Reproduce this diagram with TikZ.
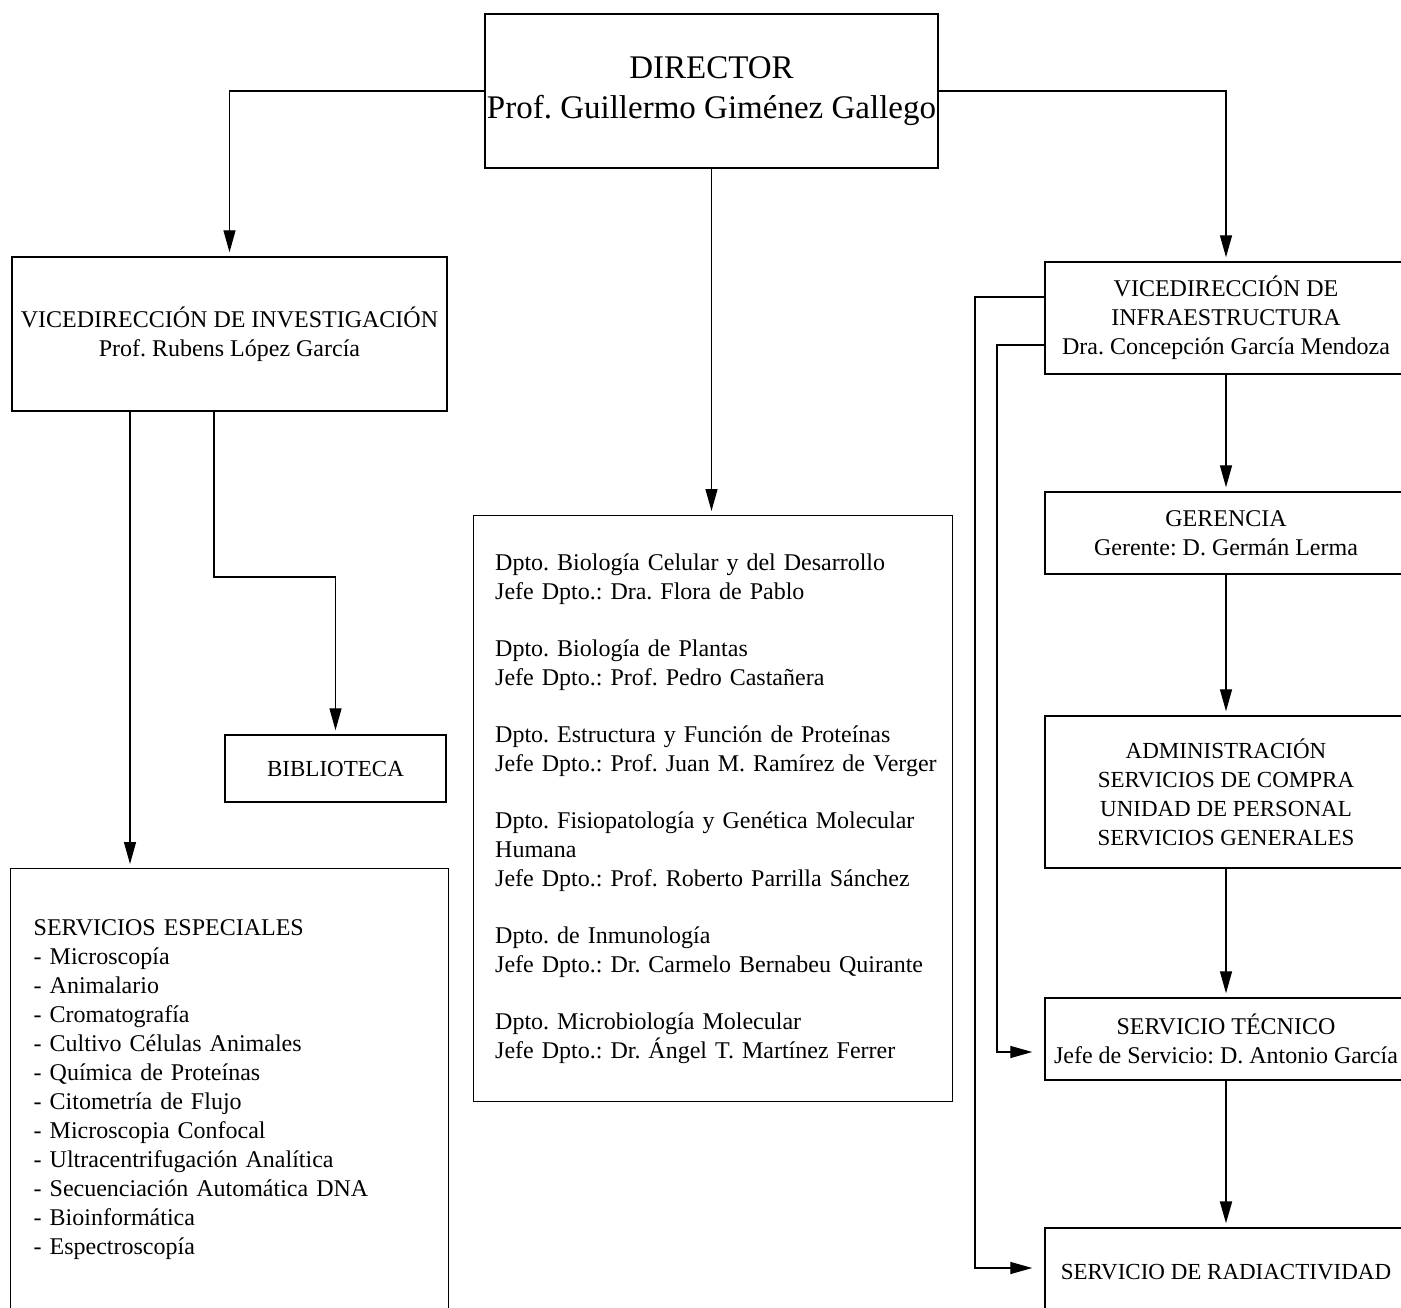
\documentclass[tikz,border=0pt]{standalone}
\usepackage{fontspec}
\setmainfont{Liberation Serif}
\frenchspacing
\hfuzz=20pt
\usetikzlibrary{arrows.meta}
\tikzset{
  box/.style={draw, line width=1.4pt, inner sep=0pt, align=center,
    font=\fontsize{24}{29}\selectfont},
  capsbox/.style={box, font=\fontsize{23}{29}\selectfont},
  listbox/.style={box, anchor=north west, align=left},
  conn/.style={line width=1.3pt, -{Triangle[length=22pt,width=12pt]}, shorten >=4pt},
  thickconn/.style={conn, line width=2pt},
  sideconn/.style={conn, shorten >=12pt}
}
\begin{document}
\begin{tikzpicture}[x=1pt,y=-1pt]
\useasboundingbox (0,0) rectangle (1401,1308);
\clip (0,0) rectangle (1401,1308);

% boxes
\node[box, minimum width=453pt, minimum height=154pt, font=\fontsize{33}{40}\selectfont]
  (dir) at (711.5,91) {DIRECTOR\\Prof. Guillermo Giménez Gallego};
\node[box, minimum width=435pt, minimum height=154pt]
  (vinv) at (229.5,334) {VICEDIRECCIÓN DE INVESTIGACIÓN\\Prof. Rubens López García};
\node[capsbox, minimum width=221pt, minimum height=67pt]
  (bib) at (335.5,768.5) {BIBLIOTECA};
\node[listbox, minimum width=438pt, minimum height=442pt, text width=392pt]
  (serv) at (10,868) {SERVICIOS ESPECIALES\\
- Microscopía\\
- Animalario\\
- Cromatografía\\
- Cultivo Células Animales\\
- Química de Proteínas\\
- Citometría de Flujo\\
- Microscopia Confocal\\
- Ultracentrifugación Analítica\\
- Secuenciación Automática DNA\\
- Bioinformática\\
- Espectroscopía};
\node[listbox, minimum width=479pt, minimum height=586pt, text width=436pt]
  (dept) at (473,515) {\mbox{Dpto. Biología Celular y del Desarrollo}\\
\mbox{Jefe Dpto.: Dra. Flora de Pablo}\\[28pt]
\mbox{Dpto. Biología de Plantas}\\
\mbox{Jefe Dpto.: Prof. Pedro Castañera}\\[28pt]
\mbox{Dpto. Estructura y Función de Proteínas}\\
\mbox{Jefe Dpto.: Prof. Juan M. Ramírez de Verger}\\[28pt]
\mbox{Dpto. Fisiopatología y Genética Molecular}\\
Humana\\
\mbox{Jefe Dpto.: Prof. Roberto Parrilla Sánchez}\\[28pt]
\mbox{Dpto. de Inmunología}\\
\mbox{Jefe Dpto.: Dr. Carmelo Bernabeu Quirante}\\[28pt]
\mbox{Dpto. Microbiología Molecular}\\
\mbox{Jefe Dpto.: Dr. Ángel T. Martínez Ferrer}};
\node[box, minimum width=362pt, minimum height=112pt]
  (infra) at (1226,318) {VICEDIRECCIÓN DE\\INFRAESTRUCTURA\\Dra. Concepción García Mendoza};
\node[box, minimum width=362pt, minimum height=82pt]
  (geren) at (1226,533) {GERENCIA\\Gerente: D. Germán Lerma};
\node[capsbox, minimum width=362pt, minimum height=152pt]
  (admin) at (1226,792) {ADMINISTRACIÓN\\SERVICIOS DE COMPRA\\UNIDAD DE PERSONAL\\SERVICIOS GENERALES};
\node[box, minimum width=362pt, minimum height=82pt]
  (stec) at (1226,1039) {SERVICIO TÉCNICO\\Jefe de Servicio: D. Antonio García};
\node[capsbox, minimum width=362pt, minimum height=88pt]
  (rad) at (1226,1272) {SERVICIO DE RADIACTIVIDAD};

% helper coordinates
\coordinate (sx) at (130,0);
\coordinate (bx) at (214,577);
\coordinate (fa) at (975,297);
\coordinate (fb) at (997,345);
\coordinate (fbe) at (997,1052);
\coordinate (fae) at (975,1268);

% connectors
\draw[conn] (dir.west) -| (vinv.north);
\draw[conn] (dir.east) -| (infra.north);
\draw[conn] (dir.south) -- (dir.south |- dept.north);
\draw[conn] (vinv.south -| sx) -- (serv.north -| sx);
\draw[conn] (vinv.south -| bx) -- (bx) -| (bib.north);
\draw[conn] (infra.south) -- (geren.north);
\draw[conn] (geren.south) -- (admin.north);
\draw[conn] (admin.south) -- (stec.north);
\draw[thickconn] (stec.south) -- (rad.north);
\draw[sideconn] (infra.west |- fa) -- (fa) -- (fae) -- (rad.west |- fae);
\draw[sideconn] (infra.west |- fb) -- (fb) -- (fbe) -- (stec.west |- fbe);
\end{tikzpicture}
\end{document}
